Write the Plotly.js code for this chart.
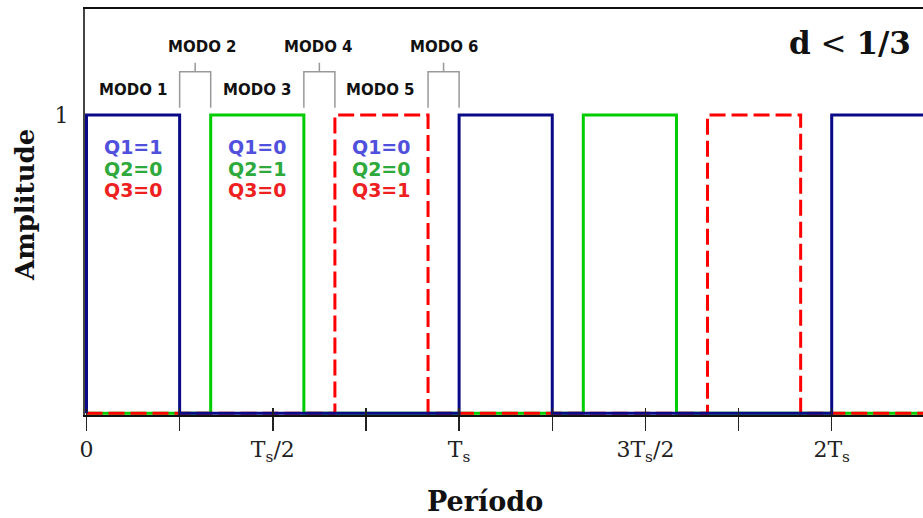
<!DOCTYPE html>
<html>
<head>
<meta charset="utf-8">
<script src="https://cdn.plot.ly/plotly-3.0.1.min.js"></script>
<style>html,body{margin:0;padding:0;overflow:hidden;background:#fff}</style>
</head>
<body>
<div id="chart" style="width:923px;height:518px"></div>
<script>
// ---- data (time in units of Ts) ----
const xEnd = 2.3;
const q1Rise = [0, 1, 2];
const q1Fall = [0.25, 1.25];
const q2Rise = [1/3, 4/3];
const q2Fall = [7/12, 19/12];
const q3Rise = [2/3, 5/3];
const q3Fall = [11/12, 23/12];

const tickVals = [0, 0.25, 0.5, 0.75, 1, 1.25, 1.5, 1.75, 2, 2.25];
const tickText = ["0", "", "T<sub>s</sub>/2", "", "T<sub>s</sub>", "", "3T<sub>s</sub>/2", "", "2T<sub>s</sub>", ""];

const modeNames = ["MODO 1", "MODO 2", "MODO 3", "MODO 4", "MODO 5", "MODO 6"];
const modeX = [0.125, 0.31, 0.46, 0.622, 0.79, 0.962];
const modeRow = [0, 1, 0, 1, 0, 1];
const gapStart = [0.25, 7/12, 11/12];
const gapEnd = [1/3, 2/3, 1];

const stateX = [0.125, 0.458, 0.792];
const q1State = [1, 0, 0];
const q2State = [0, 1, 0];
const q3State = [0, 0, 1];

// ---- build square waves ----
function wave(rise, fall) {
  const ev = [];
  rise.forEach(t => ev.push([t, 1]));
  fall.forEach(t => ev.push([t, 0]));
  ev.sort((a, b) => a[0] - b[0]);
  const x = [0], y = [0];
  let cur = 0;
  ev.forEach(([t, v]) => { x.push(t); y.push(cur); x.push(t); y.push(v); cur = v; });
  x.push(xEnd); y.push(cur);
  return {x, y};
}
const w1 = wave(q1Rise, q1Fall), w2 = wave(q2Rise, q2Fall), w3 = wave(q3Rise, q3Fall);

const traces = [
  {x: w2.x, y: w2.y, mode: 'lines', line: {color: '#00cc00', width: 3}, hoverinfo: 'skip'},
  {x: w3.x, y: w3.y, mode: 'lines', line: {color: '#ff0000', width: 3, dash: '16px,6px'}, hoverinfo: 'skip'},
  {x: w1.x, y: w1.y, mode: 'lines', line: {color: '#0a0a86', width: 3}, hoverinfo: 'skip'}
];

// brackets for the short modes
const bBot = 1.024, bTop = 1.145, bStem = 1.175;
const bx = [], by = [];
gapStart.forEach((s, i) => {
  const e = gapEnd[i], m = (s + e) / 2;
  bx.push(s, s, e, e, null, m, m, null);
  by.push(bBot, bTop, bTop, bBot, null, bTop, bStem, null);
});
traces.push({x: bx, y: by, mode: 'lines', line: {color: '#999999', width: 1.5}, hoverinfo: 'skip'});

const annotations = [];
modeNames.forEach((n, i) => {
  annotations.push({x: modeX[i], y: modeRow[i] ? 1.226 : 1.084, xref: 'x', yref: 'y', text: n, showarrow: false,
    font: {family: 'DejaVu Sans', size: 15, color: '#111', weight: 'bold'}});
});
stateX.forEach((sx, i) => {
  annotations.push({x: sx, y: 0.893, xref: 'x', yref: 'y', text: 'Q1=' + q1State[i], showarrow: false,
    font: {family: 'DejaVu Sans', size: 19, color: '#5050dd', weight: 'bold'}});
  annotations.push({x: sx, y: 0.820, xref: 'x', yref: 'y', text: 'Q2=' + q2State[i], showarrow: false,
    font: {family: 'DejaVu Sans', size: 19, color: '#2eaa3c', weight: 'bold'}});
  annotations.push({x: sx, y: 0.748, xref: 'x', yref: 'y', text: 'Q3=' + q3State[i], showarrow: false,
    font: {family: 'DejaVu Sans', size: 19, color: '#ee2020', weight: 'bold'}});
});
annotations.push({x: 2.218, y: 1.24, xref: 'x', yref: 'y', xanchor: 'right', text: '<b>d</b> &lt; <b>1/3</b>', showarrow: false,
  font: {family: 'DejaVu Serif', size: 31, color: '#111'}});
// axis titles
annotations.push({x: (485 - 85) / 838, y: (415 - 502) / 406, xref: 'paper', yref: 'paper', xanchor: 'center', yanchor: 'middle',
  text: 'Período', showarrow: false,
  font: {family: 'DejaVu Serif', size: 27, color: '#111', weight: 'bold'}});
annotations.push({x: (25 - 85) / 838, y: (415 - 205) / 406, xref: 'paper', yref: 'paper', xanchor: 'center', yanchor: 'middle',
  text: 'Amplitude', textangle: -90, showarrow: false,
  font: {family: 'DejaVu Serif', size: 26, color: '#111', weight: 'bold'}});

const layout = {
  width: 923, height: 518,
  margin: {l: 85, r: 0, t: 9, b: 103},
  paper_bgcolor: '#fff', plot_bgcolor: '#fff',
  showlegend: false,
  xaxis: {
    range: [-0.004, 2.245], showgrid: false, zeroline: false,
    showline: true, linecolor: '#111', linewidth: 2, mirror: true,
    tickmode: 'array', tickvals: tickVals, ticktext: tickText,
    ticks: 'outside', ticklen: 14, tickwidth: 1.5, tickcolor: '#222',
    tickfont: {family: 'DejaVu Serif', size: 22, color: '#222'}
  },
  xaxis2: {
    overlaying: 'x', anchor: 'y', matches: 'x', range: [-0.004, 2.245],
    showgrid: false, zeroline: false, showline: false, showticklabels: false,
    tickmode: 'array', tickvals: tickVals,
    ticks: 'inside', ticklen: 7, tickwidth: 1.5, tickcolor: '#222', side: 'bottom'
  },
  yaxis: {
    range: [-0.006, 1.355], showgrid: false, zeroline: false,
    showline: true, linecolor: '#444', linewidth: 2,
    tickmode: 'array', tickvals: [1], ticktext: ['1'], ticks: '',
    ticklabelstandoff: 10,
    tickfont: {family: 'DejaVu Serif', size: 22, color: '#222'}
  },
  annotations: annotations
};
// invisible point so the overlaid axis (inner tick marks) is drawn
traces.push({x: [0], y: [0], xaxis: 'x2', mode: 'markers', marker: {opacity: 0}, hoverinfo: 'skip'});

Plotly.newPlot('chart', traces, layout, {displayModeBar: false, staticPlot: true});
</script>
</body>
</html>
